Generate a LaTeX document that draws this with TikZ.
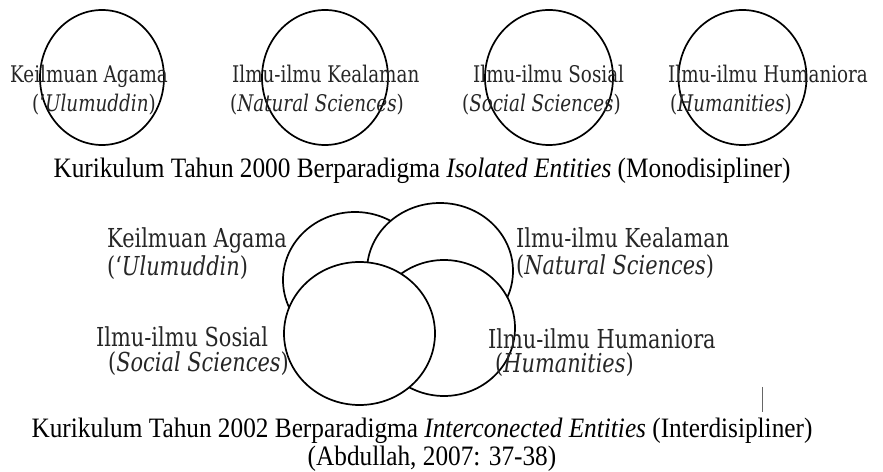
\documentclass[tikz,border=0pt]{standalone}
\usepackage{fontspec}
\setmainfont{Liberation Serif}
\newfontfamily\capfont[FakeStretch=0.9]{Liberation Serif}
\newfontfamily\labfont[FakeStretch=0.8]{DejaVu Serif}
\begin{document}
\begin{tikzpicture}[x=1bp,y=-1bp]
\tikzset{
  ring/.style={draw=black, line width=1.7bp},
  disc/.style={draw=black, line width=1.7bp, fill=white},
  toplab/.style={anchor=base west, inner sep=0pt, text=black!85, font=\labfont\fontsize{23}{27}\selectfont},
  botlab/.style={anchor=base west, inner sep=0pt, text=black!85, font=\labfont\fontsize{26.2}{30}\selectfont},
  captext/.style={anchor=base, inner sep=0pt, font=\capfont\fontsize{28.2}{32}\selectfont},
  mark line/.style={draw=black!60, line width=0.8bp}
}
\useasboundingbox (0,0) rectangle (883,472);

% ---------- isolated entities ----------
\draw[ring] (102,77.5) ellipse [x radius=62, y radius=67.5];
\draw[ring] (325,77.5) ellipse [x radius=63, y radius=67.5];
\draw[ring] (549,77.5) ellipse [x radius=64, y radius=67.5];
\draw[ring] (742.5,77.5) ellipse [x radius=64, y radius=67.5];

\node[toplab] (a1) at (10,83)  {Keilmuan Agama};
\node[toplab] (a2) at (32,112) {(\textquoteleft\textit{Ulumuddin})};
\node[toplab] (k1) at (232,83) {Ilmu-ilmu Kealaman};
\node[toplab] (k2) at (230,112) {(\textit{Natural Sciences})};
\node[toplab] (s1) at (473,83) {Ilmu-ilmu Sosial};
\node[toplab] (s2) at (462,112) {(\textit{Social Sciences})};
\node[toplab] (h1) at (668,83) {Ilmu-ilmu Humaniora};
\node[toplab] (h2) at (670,112) {(\textit{Humanities})};

\node[captext] (cap1) at (422,178) {Kurikulum Tahun 2000 Berparadigma \textit{Isolated Entities} (Monodisipliner)};

% ---------- interconnected entities ----------
\draw[disc] (355,280) ellipse [x radius=72, y radius=68];
\draw[disc] (440,271) ellipse [x radius=73, y radius=68];
\draw[disc] (444,328) ellipse [x radius=71, y radius=68];
\draw[disc] (359.5,333.5) ellipse [x radius=75.5, y radius=71.5];

\node[botlab] (ba1) at (107,248) {Keilmuan Agama};
\node[botlab] (ba2) at (107,276) {(\textquoteleft\textit{Ulumuddin})};
\node[botlab] (bk1) at (516,248) {Ilmu-ilmu Kealaman};
\node[botlab] (bk2) at (516,275) {(\textit{Natural Sciences})};
\node[botlab] (bs1) at (96,347) {Ilmu-ilmu Sosial};
\node[botlab] (bs2) at (108,372) {(\textit{Social Sciences})};
\node[botlab] (bh1) at (488,349) {Ilmu-ilmu Humaniora};
\node[botlab] (bh2) at (495,373) {(\textit{Humanities})};

\coordinate (m1) at (762,387);
\coordinate (m2) at (762,412);
\draw[mark line] (m1) -- (m2);

\node[captext] (cap2) at (422,437) {Kurikulum Tahun 2002 Berparadigma \textit{Interconected Entities} (Interdisipliner)};
\node[captext] (src) at (432,465) {(Abdullah, 2007: 37-38)};
\end{tikzpicture}
\end{document}
